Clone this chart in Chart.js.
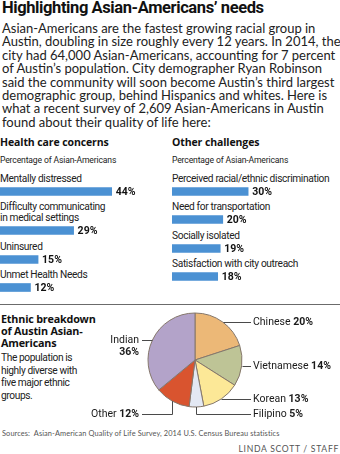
<!DOCTYPE html>
<html>
<head>
<meta charset="utf-8">
<script src="https://cdn.jsdelivr.net/npm/chart.js@4.4.0/dist/chart.umd.min.js"></script>
<style>
  body { margin:0; width:340px; height:454px; background:#fff; position:relative; overflow:hidden; color:#1a1a1a; }
  .abs { position:absolute; }
  #title { left:2px; top:0px; font:bold 16.5px Roboto; letter-spacing:-0.4px; line-height:16px; white-space:nowrap; color:#111; }
  #intro { left:2px; top:22px; font:13px Lato; line-height:13.4px; white-space:nowrap; color:#222; }
  .panel { position:absolute; }
  .ptitle { font:bold 10.5px "Open Sans"; letter-spacing:-0.1px; line-height:14px; height:14px; color:#111; white-space:nowrap; }
  .psub { font:8.6px Roboto; letter-spacing:-0.15px; line-height:12px; margin-top:5px; color:#222; white-space:nowrap; }
  .rows { margin-top:6.5px; }
  .row { margin-bottom:2.5px; }
  .rlabel { font:10.2px Roboto; letter-spacing:-0.35px; line-height:11px; white-space:pre; color:#222; }
  canvas.bar { display:block; }
  #rule { left:0; top:304px; width:340px; height:0; border-top:1.5px solid #6b6b6b; }
  #ethHead { left:1px; top:313px; font:bold 10.8px "Open Sans"; letter-spacing:-0.2px; line-height:12px; color:#111; white-space:nowrap; }
  #ethText { left:1px; top:352px; font:10.2px Roboto; letter-spacing:-0.4px; line-height:12.5px; color:#222; white-space:nowrap; }
  #pieWrap { left:0; top:305px; }
  #sources { left:2px; top:429px; font:7.4px Lato; letter-spacing:0.1px; color:#555; white-space:nowrap; }
  #credit { right:1px; top:444px; font:8.6px Lato; letter-spacing:0.7px; color:#555; white-space:nowrap; }
</style>
</head>
<body>
<div id="title" class="abs">Highlighting Asian-Americans’ needs</div>
<div id="intro" class="abs">Asian-Americans are the fastest growing racial group in<br>Austin, doubling in size roughly every 12 years. In 2014, the<br>city had 64,000 Asian-Americans, accounting for 7 percent<br>of Austin’s population. City demographer Ryan Robinson<br>said the community will soon become Austin’s third largest<br>demographic group, behind Hispanics and whites. Here is<br>what a recent survey of 2,609 Asian-Americans in Austin<br>found about their quality of life here:</div>

<div class="panel" style="left:0; top:135px; width:168px">
  <div class="ptitle">Health care concerns</div>
  <div class="psub">Percentage of Asian-Americans</div>
  <div class="rows" id="healthRows"></div>
</div>
<div class="panel" style="left:172px; top:135px; width:168px">
  <div class="ptitle">Other challenges</div>
  <div class="psub">Percentage of Asian-Americans</div>
  <div class="rows" id="otherRows"></div>
</div>

<div id="rule" class="abs"></div>
<div id="ethHead" class="abs">Ethnic breakdown<br>of Austin Asian-<br>Americans</div>
<div id="ethText" class="abs">The population is<br>highly diverse with<br>five major ethnic<br>groups.</div>
<div id="pieWrap" class="abs"><canvas id="pie" width="340" height="120"></canvas></div>
<div id="sources" class="abs">Sources:&nbsp; Asian-American Quality of Life Survey, 2014 U.S. Census Bureau statistics</div>
<div id="credit" class="abs">LINDA SCOTT / STAFF</div>

<script>
// health care concerns (% of Asian-Americans)
const healthLabels = ['Mentally distressed', ['Difficulty communicating', 'in medical settings'], 'Uninsured', 'Unmet Health Needs'];
const healthValues = [44, 29, 15, 12];

// other challenges (% of Asian-Americans)
const otherLabels = ['Perceived racial/ethnic discrimination', 'Need for transportation', 'Socially isolated', 'Satisfaction with city outreach'];
const otherValues = [30, 20, 19, 18];

// ethnic breakdown (%), clockwise from 12 o'clock
const ethnicLabels = ['Chinese', 'Vietnamese', 'Korean', 'Filipino', 'Other', 'Indian'];
const ethnicValues = [20, 14, 13, 5, 12, 36];

const BLUE = '#4b91d3';
const FONT = 'Roboto';

// writes "44%" just past the end of the bar
const valueLabel = {
  id: 'valueLabel',
  afterDatasetsDraw(chart) {
    const ctx = chart.ctx;
    const bar = chart.getDatasetMeta(0).data[0];
    const v = chart.data.datasets[0].data[0];
    ctx.save();
    ctx.font = 'bold 10.5px ' + FONT;
    ctx.fillStyle = '#111';
    ctx.textBaseline = 'middle';
    ctx.fillText(v + '%', bar.x + 4, bar.y + 0.5);
    ctx.restore();
  }
};

function barChart(canvas, label, value) {
  return new Chart(canvas, {
    type: 'bar',
    data: {
      labels: [label],
      datasets: [{ data: [value], backgroundColor: BLUE, borderWidth: 0, barThickness: 8 }]
    },
    options: {
      indexAxis: 'y',
      responsive: false,
      animation: false,
      layout: { padding: 0 },
      scales: {
        x: { display: false, min: 0, max: 65 },
        y: { display: false }
      },
      plugins: { legend: { display: false }, tooltip: { enabled: false } }
    },
    plugins: [valueLabel]
  });
}

function buildRows(el, labels, values) {
  labels.forEach((lab, i) => {
    const row = document.createElement('div');
    row.className = 'row';
    const t = document.createElement('div');
    t.className = 'rlabel';
    t.textContent = [].concat(lab).join('\n');
    const c = document.createElement('canvas');
    c.className = 'bar';
    c.width = 165;
    c.height = 15;
    row.appendChild(t);
    row.appendChild(c);
    el.appendChild(row);
    barChart(c, lab, values[i]);
  });
}

buildRows(document.getElementById('healthRows'), healthLabels, healthValues);
buildRows(document.getElementById('otherRows'), otherLabels, otherValues);

// leader lines + "Name NN%" labels around the pie
const pieLabelsPlugin = {
  id: 'pieLabels',
  afterDatasetsDraw(chart) {
    const ctx = chart.ctx;
    const arcs = chart.getDatasetMeta(0).data;
    const vals = chart.data.datasets[0].data;
    ctx.save();
    ctx.strokeStyle = '#4a4a4a';
    ctx.lineWidth = 1;
    ctx.fillStyle = '#1a1a1a';
    ctx.textBaseline = 'middle';
    const reg = '10.5px ' + FONT, bold = 'bold 10.5px ' + FONT;
    arcs.forEach((arc, i) => {
      const mid = (arc.startAngle + arc.endAngle) / 2;
      const r = arc.outerRadius;
      const px = arc.x + Math.cos(mid) * r;
      const py = arc.y + Math.sin(mid) * r;
      const right = Math.cos(mid) >= 0;
      const dropped = py > arc.y + r * 0.85;
      const ly = Math.round(dropped ? arc.y + r + 7 : py) + 0.5;
      const end = right ? arc.x + r + 9 : arc.x - r - 6;
      ctx.beginPath();
      ctx.moveTo(Math.round(px) + 0.5, dropped ? py : ly);
      if (dropped) ctx.lineTo(Math.round(px) + 0.5, ly);
      ctx.lineTo(end, ly);
      ctx.stroke();

      const name = chart.data.labels[i];
      const pct = vals[i] + '%';
      ctx.font = reg;
      const nw = ctx.measureText(name + ' ').width;
      ctx.font = bold;
      const pw = ctx.measureText(pct).width;
      if (right) {
        ctx.font = reg;
        ctx.fillText(name, end + 2, ly);
        ctx.font = bold;
        ctx.fillText(pct, end + 2 + nw, ly);
      } else if (dropped) {
        const x0 = end - 3 - nw - pw;
        ctx.font = reg;
        ctx.fillText(name, x0, ly);
        ctx.font = bold;
        ctx.fillText(pct, x0 + nw, ly);
      } else {
        ctx.textAlign = 'right';
        ctx.font = reg;
        ctx.fillText(name, end - 3, ly);
        ctx.font = bold;
        ctx.fillText(pct, end - 3, ly + 12);
        ctx.textAlign = 'left';
      }
    });
    ctx.restore();
  }
};

new Chart(document.getElementById('pie'), {
  type: 'pie',
  data: {
    labels: ethnicLabels,
    datasets: [{
      data: ethnicValues,
      backgroundColor: ['#ecb877', '#bec496', '#fce897', '#e3e8f3', '#d9542f', '#b3a3c9'],
      borderColor: '#85776b',
      borderWidth: 1
    }]
  },
  options: {
    responsive: false,
    animation: false,
    radius: 47,
    layout: { padding: { left: 50, bottom: 10 } },
    plugins: { legend: { display: false }, tooltip: { enabled: false } }
  },
  plugins: [pieLabelsPlugin]
});
</script>
</body>
</html>
